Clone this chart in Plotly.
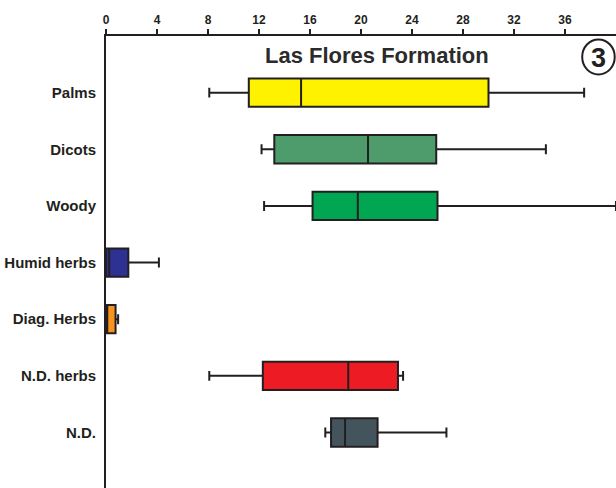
import plotly.graph_objects as go

# Pollen group abundance summary, Las Flores Formation
categories = ["Palms", "Dicots", "Woody", "Humid herbs", "Diag. Herbs", "N.D. herbs", "N.D."]
lower_whisker = [8.1, 12.2, 12.4, 0.0, 0.0, 8.1, 17.2]
q1_values = [11.2, 13.2, 16.2, 0.0, 0.0, 12.3, 17.65]
median_values = [15.3, 20.55, 19.75, 0.25, 0.1, 19.0, 18.75]
q3_values = [30.0, 25.9, 26.0, 1.75, 0.75, 22.9, 21.3]
upper_whisker = [37.5, 34.5, 40.0, 4.15, 0.95, 23.3, 26.7]
fill_colors = ["#fff200", "#4e9c6c", "#00a651", "#2e3192", "#f7941d", "#ed1c24", "#44545c"]
tick_values = [0, 4, 8, 12, 16, 20, 24, 28, 32, 36]

fig = go.Figure()
for i, cat in enumerate(categories):
    fig.add_trace(go.Box(
        y=[cat],
        q1=[q1_values[i]],
        median=[median_values[i]],
        q3=[q3_values[i]],
        lowerfence=[lower_whisker[i]],
        upperfence=[upper_whisker[i]],
        orientation="h",
        fillcolor=fill_colors[i],
        line=dict(color="#231f20", width=2),
        whiskerwidth=0.35,
        width=0.5,
        boxpoints=False,
        hoverinfo="skip",
        showlegend=False,
    ))

fig.update_layout(
    width=616, height=488,
    margin=dict(l=106, r=0, t=36, b=0),
    paper_bgcolor="white", plot_bgcolor="white",
    boxmode="overlay",
    font=dict(family="Liberation Sans, Arial, sans-serif", color="#231f20"),
    xaxis=dict(
        side="top", range=[0, 40], tickvals=tick_values,
        ticks="outside", ticklen=5, tickwidth=1.5, tickcolor="#231f20",
        showline=True, linecolor="#231f20", linewidth=2,
        showgrid=False, zeroline=False,
        tickfont=dict(size=12, family="Liberation Sans, Arial, sans-serif", weight="bold"),
    ),
    yaxis=dict(
        categoryorder="array", categoryarray=categories,
        range=[6.98, -1], ticks="", ticklabelstandoff=5,
        showline=True, linecolor="#231f20", linewidth=2,
        showgrid=False, zeroline=False,
        tickfont=dict(size=15, family="Liberation Sans, Arial, sans-serif", weight="bold"),
    ),
)

fig.add_annotation(
    text="<b>Las Flores Formation</b>", x=0.532, y=-0.65, xref="paper", yref="y",
    showarrow=False, font=dict(size=22, color="#2b2b2b"),
)
fig.add_annotation(
    text="<b>3</b>", x=38.62, y=-0.62, xref="x", yref="y",
    showarrow=False, font=dict(size=27, color="#231f20"),
)
fig.add_shape(
    type="circle", xref="x", yref="y",
    x0=37.35, x1=39.9, y0=-0.94, y1=-0.32,
    line=dict(color="#231f20", width=2),
)

fig.write_html("out.html")
